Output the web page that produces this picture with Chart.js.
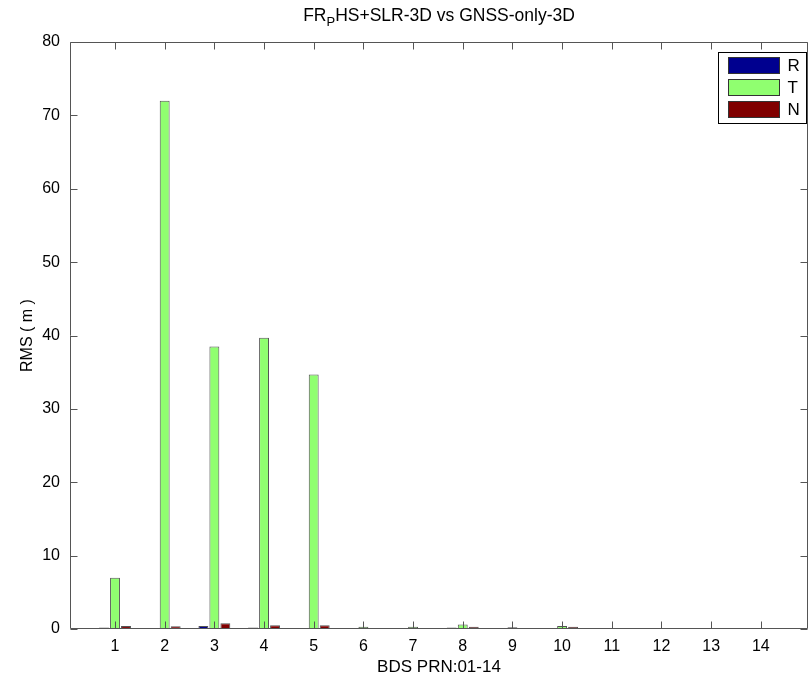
<!DOCTYPE html>
<html>
<head>
<meta charset="utf-8">
<script src="https://cdn.jsdelivr.net/npm/chart.js@4.4.0/dist/chart.umd.min.js"></script>
<style>
  html, body { margin: 0; padding: 0; background: #fff; }
  #wrap { width: 810px; height: 675px; position: relative; }
</style>
</head>
<body>
<div id="wrap"><canvas id="c" width="810" height="675"></canvas></div>
<script>
// ---- data ----
const categories = [1, 2, 3, 4, 5, 6, 7, 8, 9, 10, 11, 12, 13, 14];
const seriesNames = ['R', 'T', 'N'];
const valuesR = [0.2, 0.05, 0.4, 0.2, 0.05, 0.1, 0.05, 0.2, 0.05, 0.05, 0.05, 0.05, 0, 0.05];
const valuesT = [7.0, 72.0, 38.5, 39.7, 34.7, 0.3, 0.3, 0.6, 0.25, 0.4, 0.05, 0.05, 0, 0.05];
const valuesN = [0.4, 0.37, 0.8, 0.5, 0.5, 0.15, 0.15, 0.3, 0.15, 0.3, 0.05, 0.05, 0, 0.05];
const yTicks = [0, 10, 20, 30, 40, 50, 60, 70, 80];
const titleParts = ['FR', 'P', 'HS+SLR-3D vs GNSS-only-3D'];
const xTitle = 'BDS PRN:01-14';
const yTitle = 'RMS ( m )';

const colors = ['rgb(0,0,143)', 'rgb(144,255,112)', 'rgb(128,0,0)'];
const FONT = '"Liberation Sans", Arial, sans-serif';
const AXIS_COLOR = '#555';

function toPoints(vals) { return categories.map((c, i) => ({ x: c, y: vals[i] })); }

const datasets = [valuesR, valuesT, valuesN].map((vals, i) => ({
  label: seriesNames[i],
  data: toPoints(vals),
  backgroundColor: colors[i],
  borderColor: 'rgba(40,40,40,0.8)',
  borderWidth: 1,
  borderSkipped: 'start',
  categoryPercentage: 0.664,
  barPercentage: 0.9
}));

const titlePlugin = {
  id: 'subTitle',
  afterDraw(chart) {
    const ctx = chart.ctx;
    const ca = chart.chartArea;
    ctx.save();
    ctx.fillStyle = '#000';
    ctx.textBaseline = 'alphabetic';
    const big = '17.5px ' + FONT, small = '13px ' + FONT;
    ctx.font = big; const w0 = ctx.measureText(titleParts[0]).width;
    ctx.font = small; const w1 = ctx.measureText(titleParts[1]).width;
    ctx.font = big; const w2 = ctx.measureText(titleParts[2]).width;
    const total = w0 + w1 + w2;
    let x = (ca.left + ca.right) / 2 - total / 2;
    const y = 21;
    ctx.textAlign = 'left';
    ctx.font = big; ctx.fillText(titleParts[0], x, y); x += w0;
    ctx.font = small; ctx.fillText(titleParts[1], x, y + 5); x += w1;
    ctx.font = big; ctx.fillText(titleParts[2], x, y);
    ctx.restore();
  }
};

const boxPlugin = {
  id: 'matlabBox',
  afterDatasetsDraw(chart) {
    const ctx = chart.ctx;
    const ca = chart.chartArea;
    const xs = chart.scales.x, ys = chart.scales.y;
    const L = Math.round(ca.left) + 0.5, R = Math.round(ca.right) - 0.5;
    const T = Math.round(ca.top) + 0.5, B = Math.round(ca.bottom) - 0.5;
    const tl = 7;
    ctx.save();
    ctx.strokeStyle = AXIS_COLOR;
    ctx.lineWidth = 1;
    ctx.beginPath();
    ctx.rect(L, T, R - L, B - T);
    categories.forEach(c => {
      const px = Math.round(xs.getPixelForValue(c)) + 0.5;
      ctx.moveTo(px, B); ctx.lineTo(px, B - tl);
      ctx.moveTo(px, T); ctx.lineTo(px, T + tl);
    });
    yTicks.forEach(v => {
      const py = Math.round(ys.getPixelForValue(v)) + 0.5;
      ctx.moveTo(L, py); ctx.lineTo(L + tl, py);
      ctx.moveTo(R, py); ctx.lineTo(R - tl, py);
    });
    ctx.stroke();
    ctx.restore();
  }
};

const legendPlugin = {
  id: 'boxLegend',
  afterDraw(chart) {
    const ctx = chart.ctx;
    const ca = chart.chartArea;
    const bx = Math.round(ca.right) - 90 + 0.5, by = Math.round(ca.top) + 10 + 0.5;
    const bw = 88, bh = 71;
    ctx.save();
    ctx.fillStyle = '#fff';
    ctx.strokeStyle = '#000';
    ctx.lineWidth = 1;
    ctx.fillRect(bx, by, bw, bh);
    ctx.strokeRect(bx, by, bw, bh);
    ctx.font = '17px ' + FONT;
    ctx.textBaseline = 'middle';
    ctx.textAlign = 'left';
    chart.data.datasets.forEach((ds, i) => {
      const ry = by + 5 + i * 22;
      ctx.fillStyle = ds.backgroundColor;
      ctx.fillRect(bx + 10, ry, 51, 16);
      ctx.strokeStyle = '#333';
      ctx.strokeRect(bx + 10, ry, 51, 16);
      ctx.fillStyle = '#000';
      ctx.fillText(ds.label, bx + 69, ry + 8.5);
    });
    ctx.restore();
  }
};

new Chart(document.getElementById('c'), {
  type: 'bar',
  data: { datasets },
  options: {
    responsive: false,
    animation: false,
    layout: { padding: { left: 0, right: 2, top: 42, bottom: 0 } },
    plugins: {
      legend: { display: false },
      title: { display: false },
      tooltip: { enabled: false }
    },
    scales: {
      x: {
        type: 'linear',
        offset: false,
        min: 0.094,
        max: 14.95,
        grid: { display: false, drawTicks: false },
        border: { display: false },
        afterBuildTicks: s => { s.ticks = categories.map(v => ({ value: v })); },
        afterFit: s => { s.height = 46; },
        ticks: {
          color: '#000',
          padding: 8,
          maxRotation: 0,
          autoSkip: false,
          font: { family: FONT, size: 16 },
          callback: v => String(v)
        },
        title: {
          display: true, text: xTitle, color: '#000',
          font: { family: FONT, size: 17 },
          padding: { top: 0, bottom: -3 }
        }
      },
      y: {
        min: 0,
        max: 80,
        grid: { display: false, drawTicks: false },
        border: { display: false },
        afterBuildTicks: s => { s.ticks = yTicks.map(v => ({ value: v })); },
        afterFit: s => { s.width = 70; },
        ticks: {
          color: '#000',
          padding: 10,
          font: { family: FONT, size: 16 },
          callback: v => String(v)
        },
        title: {
          display: true, text: yTitle, color: '#000',
          font: { family: FONT, size: 16 },
          padding: { top: 18, bottom: 0 }
        }
      }
    }
  },
  plugins: [boxPlugin, titlePlugin, legendPlugin]
});
</script>
</body>
</html>
